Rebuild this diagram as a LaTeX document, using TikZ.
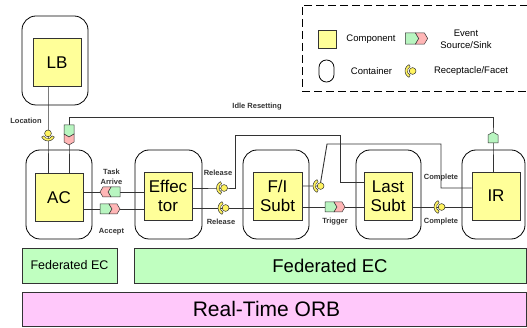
\documentclass[tikz,border=0pt]{standalone}
\usepackage{fontspec}
\setmainfont{Liberation Sans}
\usetikzlibrary{calc}
\definecolor{compY}{HTML}{FFFF99}
\definecolor{evG}{HTML}{B8F5C0}
\definecolor{evP}{HTML}{FFB6B6}
\definecolor{fedG}{HTML}{C0FFC0}
\definecolor{orbP}{HTML}{FFC8FA}
\definecolor{recY}{HTML}{FFF360}
\definecolor{ln}{HTML}{333333}
\begin{document}
\begin{tikzpicture}[x=1pt,y=-1pt,
  comp/.style={draw=ln,line width=0.8pt,fill=compY,minimum width=48pt,minimum height=48pt,inner sep=0pt,font=\fontsize{17}{19}\selectfont,align=center},
  cont/.style={draw=black,line width=0.8pt,rounded corners=14pt,minimum width=66pt,minimum height=89pt,inner sep=0pt},
  conn/.style={draw=ln,line width=0.9pt},
  lbl/.style={font=\fontsize{7.5}{10}\selectfont\bfseries,inner sep=0pt,align=center,text=ln},
  leg/.style={font=\fontsize{9.5}{12}\selectfont,inner sep=0pt,align=center},
  evt/.pic={
    \filldraw[draw=ln,line width=0.5pt,fill=evG] (-10pt,-5pt) -- (-1pt,-5pt) -- (2pt,0pt) -- (-1pt,5pt) -- (-10pt,5pt) -- cycle;
    \filldraw[draw=ln,line width=0.5pt,fill=evP] (-1pt,-5pt) -- (7pt,-5pt) -- (10pt,0pt) -- (7pt,5pt) -- (-1pt,5pt) -- (2pt,0pt) -- cycle;
  },
  rec/.pic={
    \filldraw[draw=ln,line width=0.5pt,fill=recY] (115:7pt) arc[start angle=115,end angle=245,radius=7pt] -- (245:4.6pt) arc[start angle=245,end angle=115,radius=4.6pt] -- cycle;
    \filldraw[draw=ln,line width=0.5pt,fill=recY] (0.6pt,0pt) circle[radius=3.4pt];
  },
  srcp/.pic={
    \filldraw[draw=ln,line width=0.5pt,fill=evG] (-5.5pt,-5pt) -- (2.5pt,-5pt) -- (5.5pt,0pt) -- (2.5pt,5pt) -- (-5.5pt,5pt) -- cycle;
  }
]
\useasboundingbox (0,0) rectangle (527,328);
\clip (0,0) rectangle (527,328);

% legend
\node[draw=black,line width=0.8pt,dash pattern=on 8pt off 4pt,minimum width=250pt,minimum height=86pt,inner sep=0pt] (legend) at (427,48) {};
\node[draw=ln,line width=0.8pt,fill=compY,minimum width=18pt,minimum height=18pt,inner sep=0pt] (lgC) at (327,39) {};
\node[leg] (lgCt) at (371,39) {Component};
\coordinate (lgE) at (416.5,38.5);
\pic[scale=1.12] at (lgE) {evt};
\node[leg] (lgEt) at (466,39) {Event\\Source/Sink};
\node[draw=black,line width=0.8pt,rounded corners=7.4pt,minimum width=15pt,minimum height=22pt,inner sep=0pt] (lgK) at (326.5,71) {};
\node[leg] (lgKt) at (371.5,71) {Container};
\coordinate (lgR) at (412,71);
\pic at (lgR) {rec};
\node[leg] (lgRt) at (471,71) {Receptacle/Facet};

% containers
\node[cont] (cLB) at (55,60.5) {};
\node[cont] (cAC) at (59,194.5) {};
\node[cont,minimum width=67pt] (cEff) at (168.5,194.5) {};
\node[cont] (cFI) at (276,194.5) {};
\node[cont,minimum width=65pt] (cLast) at (388.5,194.5) {};
\node[cont,minimum width=63pt] (cIR) at (493.5,194.5) {};

% glyph positions
\coordinate (loc) at (48,134);
\coordinate (aev) at (69,135);
\coordinate (irs) at (493,137.5);
\coordinate (ta) at (110,192);
\coordinate (acc) at (110,209);
\coordinate (rel1) at (223.5,188);
\coordinate (rel2) at (225,208);
\coordinate (fir) at (320,186);
\coordinate (trg) at (335,207);
\coordinate (cmp) at (441,207);
% bends
\coordinate (topL) at (69,117);
\coordinate (topR) at (493,117);
\coordinate (b1) at (235,188);
\coordinate (b2) at (235,135);
\coordinate (b3) at (340,135);
\coordinate (b4) at (340,182);
\coordinate (c1) at (327,144);
\coordinate (c2) at (441,144);
\coordinate (c3) at (441,188);

% components (placed for anchors)
\node[comp] (LB) at (57,62.5) {LB};
\node[comp] (AC) at (59,197.5) {AC};
\node[comp] (Eff) at (168,196) {Effec\\tor};
\node[comp,minimum width=49pt] (FI) at (277.5,196) {F/I\\Subt};
\node[comp] (Last) at (388,196) {Last\\Subt};
\node[comp] (IR) at (496,196) {IR};

% connectors
\draw[conn] (LB.south -| loc) -- (loc) -- (AC.north -| loc);
\draw[conn] (AC.north -| aev) -- (aev) -- (topL) -- (topR) -- (irs) -- (IR.north -| irs);
\draw[conn] (AC.east |- ta) -- (Eff.west |- ta);
\draw[conn] (AC.east |- acc) -- (Eff.west |- acc);
\draw[conn] (Eff.east |- rel1) -- (rel1) -- (b1) -- (b2) -- (b3) -- (b4) -- (Last.west |- b4);
\draw[conn] (Eff.east |- rel2) -- (FI.west |- rel2);
\draw[conn] (FI.east |- fir) -- (fir) -- (c1) -- (c2) -- (c3) -- (IR.west |- c3);
\draw[conn] (FI.east |- trg) -- (Last.west |- trg);
\draw[conn] (Last.east |- cmp) -- (IR.west |- cmp);

% redraw components over lines
\node[comp] at (LB) {LB};
\node[comp] at (AC) {AC};
\node[comp] at (Eff) {Effec\\tor};
\node[comp,minimum width=49pt] at (FI) {F/I\\Subt};
\node[comp] at (Last) {Last\\Subt};
\node[comp] at (IR) {IR};

% glyphs
\pic[rotate=90] at (loc) {rec};
\pic[rotate=-90] at (aev) {evt};
\pic[rotate=90] at (irs) {srcp};
\pic[rotate=180] at (ta) {evt};
\pic at (acc) {evt};
\pic at (rel1) {rec};
\pic at (rel2) {rec};
\pic at (fir) {rec};
\pic at (trg) {evt};
\pic at (cmp) {rec};

% labels
\node[lbl] (lLoc) at (26,121) {Location};
\node[lbl] (lIdle) at (257,107) {Idle Resetting};
\node[lbl] (lTA) at (111.5,177) {Task\\Arrive};
\node[lbl] (lAcc) at (111.5,232) {Accept};
\node[lbl] (lRel1) at (218,173) {Release};
\node[lbl] (lRel2) at (221,222) {Release};
\node[lbl] (lTrg) at (335,222) {Trigger};
\node[lbl] (lCmp1) at (441,178) {Complete};
\node[lbl] (lCmp2) at (441,222) {Complete};

% bottom layers
\node[draw=ln,line width=0.8pt,fill=fedG,minimum width=95pt,minimum height=35pt,inner sep=0pt,font=\fontsize{12.5}{14}\selectfont] (fed1) at (69.5,265.5) {Federated EC};
\node[draw=ln,line width=0.8pt,fill=fedG,minimum width=392pt,minimum height=35pt,inner sep=0pt,font=\fontsize{18.5}{20}\selectfont] (fed2) at (330,265.5) {Federated EC};
\draw[draw=ln,line width=0.8pt,fill=orbP] (22,292) rectangle (526,326);
\node[inner sep=0pt,font=\fontsize{21}{23}\selectfont] (orb) at (266.5,309) {Real-Time ORB};
\end{tikzpicture}
\end{document}
